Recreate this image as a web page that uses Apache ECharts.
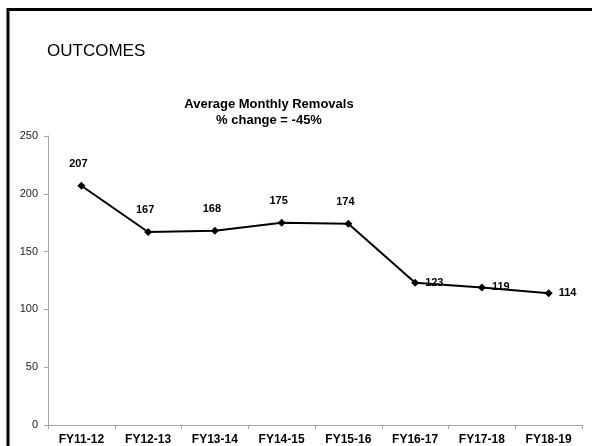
<!DOCTYPE html>
<html>
<head>
<meta charset="utf-8">
<script src="https://cdn.jsdelivr.net/npm/echarts@6/dist/echarts.min.js"></script>
<style>
  html, body { margin: 0; padding: 0; background: #fff; }
  #chart { width: 592px; height: 446px; }
</style>
</head>
<body>
<div id="chart"></div>
<script>
const categories = ["FY11-12", "FY12-13", "FY13-14", "FY14-15", "FY15-16", "FY16-17", "FY17-18", "FY18-19"];
const removals = [207, 167, 168, 175, 174, 123, 119, 114];
const yTicks = [0, 50, 100, 150, 200, 250];

const myChart = echarts.init(document.getElementById("chart"));

const option = {
  animation: false,
  backgroundColor: "#fff",
  textStyle: { fontFamily: "Arial, 'Liberation Sans', sans-serif" },
  graphic: [
    // slide border, top and left only
    { type: "line", shape: { x1: 8, y1: 9.5, x2: 592, y2: 9.5 }, style: { stroke: "#000", lineWidth: 3 } },
    { type: "line", shape: { x1: 8, y1: 8, x2: 8, y2: 446 }, style: { stroke: "#000", lineWidth: 3 } },
    {
      type: "text", left: 47, top: 43,
      style: { text: "OUTCOMES", fontSize: 17, fill: "#000", fontFamily: "Arial, 'Liberation Sans', sans-serif" }
    }
  ],
  title: {
    text: "Average Monthly Removals\n% change = -45%",
    left: 264,
    top: 92,
    textAlign: "center",
    textStyle: { fontSize: 13, fontWeight: "bold", color: "#000", lineHeight: 15.5 }
  },
  grid: { left: 48, right: 10, top: 136, bottom: 20 },
  xAxis: {
    type: "category",
    data: categories,
    boundaryGap: true,
    axisLine: { lineStyle: { color: "#a6a6a6", width: 1 } },
    axisTick: { show: true, length: 4, lineStyle: { color: "#a6a6a6" } },
    axisLabel: { color: "#000", fontSize: 12, fontWeight: "bold", margin: 9 }
  },
  yAxis: {
    type: "value",
    min: yTicks[0],
    max: yTicks[yTicks.length - 1],
    interval: yTicks[1] - yTicks[0],
    axisLine: { show: true, lineStyle: { color: "#a6a6a6", width: 1 } },
    axisTick: { show: true, length: 4, lineStyle: { color: "#a6a6a6" } },
    axisLabel: { color: "#222", fontSize: 11, margin: 10 },
    splitLine: { show: false }
  },
  series: [{
    type: "line",
    data: removals.map((v, i) => ({
      value: v,
      label: i < 5
        ? { position: "top", distance: 12, offset: [-3, 0] }
        : { position: "right", distance: 6 }
    })),
    symbol: "diamond",
    symbolSize: 8,
    lineStyle: { color: "#000", width: 2 },
    itemStyle: { color: "#000" },
    label: { show: true, color: "#000", fontSize: 11, fontWeight: "bold" }
  }]
};

myChart.setOption(option);
</script>
</body>
</html>
